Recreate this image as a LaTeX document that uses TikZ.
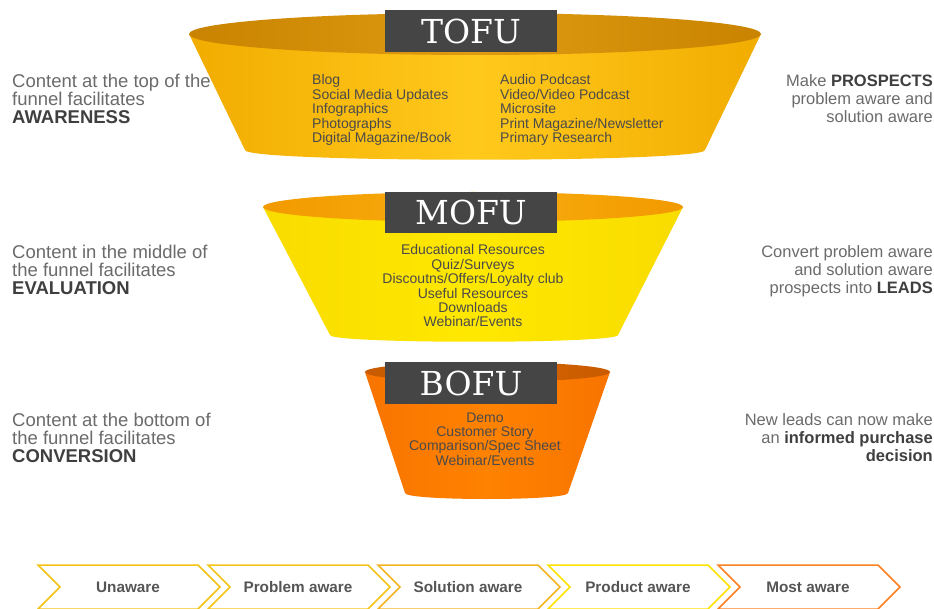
\documentclass[tikz,border=0pt]{standalone}
\usepackage{fontspec}
\setmainfont{Liberation Sans}
\newfontfamily\slab{DejaVu Serif}
\definecolor{boxgray}{HTML}{454545}
\definecolor{itemgray}{HTML}{4A4A4A}
\definecolor{descgray}{HTML}{6B6B6B}
\definecolor{boldgray}{HTML}{3F3F3F}
\definecolor{labelgray}{HTML}{555555}
\definecolor{tofuE}{HTML}{F2AC00}
\definecolor{tofuC}{HTML}{FFC91C}
\definecolor{tofuRimE}{HTML}{C98300}
\definecolor{tofuRimC}{HTML}{DE9C12}
\definecolor{mofuE}{HTML}{F8DC00}
\definecolor{mofuC}{HTML}{FFE800}
\definecolor{mofuRimE}{HTML}{F29A00}
\definecolor{mofuRimC}{HTML}{F8AE10}
\definecolor{bofuE}{HTML}{F87400}
\definecolor{bofuC}{HTML}{FF8200}
\definecolor{bofuRimE}{HTML}{C85A00}
\definecolor{bofuRimC}{HTML}{D86600}
\definecolor{chevA}{HTML}{F4C214}
\definecolor{chevB}{HTML}{F5C418}
\definecolor{chevC}{HTML}{F4B422}
\definecolor{chevD}{HTML}{FFE100}
\definecolor{chevE}{HTML}{FB8020}
\begin{document}
\begin{tikzpicture}[x=1pt,y=-1pt,
  funnelbox/.style={fill=boxgray, minimum width=172pt, minimum height=42pt, inner sep=0pt,
    text=white, font=\slab\fontsize{33}{33}\selectfont},
  items/.style={font=\fontsize{14}{14.4}\selectfont, text=itemgray, inner sep=0pt},
  descL/.style={font=\fontsize{18.5}{18}\selectfont, text=descgray, inner sep=0pt},
  descR/.style={font=\fontsize{16.5}{18}\selectfont, text=descgray, inner sep=0pt},
  chevshape/.style={line width=1.5pt, fill=white, line join=miter},
  chevlabel/.style={font=\bfseries\fontsize{15.3}{15}\selectfont, text=labelgray, inner sep=0pt}
]
\useasboundingbox[fill=white] (0,0) rectangle (934,609);

% ---------- TOFU ----------
\path[left color=tofuE, right color=tofuE, middle color=tofuC]
  (189,34) -- (245,150) .. controls (245,163) and (705,163) .. (705,150) -- (761,34) -- cycle;
\path[left color=tofuRimE, right color=tofuRimE, middle color=tofuRimC]
  (475,34) ellipse [x radius=286, y radius=21];
\node[funnelbox] (tofu) at (471,31) {TOFU};
\node[items, anchor=base west, align=left] (tofuL) at (312,142.6)
  {Blog\\Social Media Updates\\Infographics\\Photographs\\Digital Magazine/Book};
\node[items, anchor=base west, align=left] (tofuR) at (500,142.6)
  {Audio Podcast\\Video/Video Podcast\\Microsite\\Print Magazine/Newsletter\\Primary Research};

% ---------- MOFU ----------
\path[left color=mofuE, right color=mofuE, middle color=mofuC]
  (263,207) -- (330,335) .. controls (330,344) and (618,344) .. (618,335) -- (683,207) -- cycle;
\path[left color=mofuRimE, right color=mofuRimE, middle color=mofuRimC]
  (473,207) ellipse [x radius=210, y radius=15];
\node[funnelbox, minimum height=41pt] (mofu) at (471,212.5) {MOFU};
\node[items, anchor=base, align=center] (mofuI) at (473,327)
  {Educational Resources\\Quiz/Surveys\\Discoutns/Offers/Loyalty club\\Useful Resources\\Downloads\\Webinar/Events};

% ---------- BOFU ----------
\path[left color=bofuE, right color=bofuE, middle color=bofuC]
  (365,372) -- (405,493) .. controls (405,501) and (568,501) .. (568,493) -- (610,372) -- cycle;
\path[left color=bofuRimE, right color=bofuRimE, middle color=bofuRimC]
  (487.5,372) ellipse [x radius=122.5, y radius=10];
\node[funnelbox] (bofu) at (471,383) {BOFU};
\node[items, anchor=base, align=center] (bofuI) at (485,465.2)
  {Demo\\Customer Story\\Comparison/Spec Sheet\\Webinar/Events};

% ---------- side texts ----------
\node[descL, anchor=base west, align=left] (tofuDesc) at (12,124)
  {Content at the top of the\\funnel facilitates\\\textcolor{boldgray}{\textbf{AWARENESS}}};
\node[descR, anchor=base east, align=right] (tofuGoal) at (933,123)
  {Make \textcolor{boldgray}{\textbf{PROSPECTS}}\\problem aware and\\solution aware};
\node[descL, anchor=base west, align=left] (mofuDesc) at (12,295)
  {Content in the middle of\\the funnel facilitates\\\textcolor{boldgray}{\textbf{EVALUATION}}};
\node[descR, anchor=base east, align=right] (mofuGoal) at (933,294)
  {Convert problem aware\\and solution aware\\prospects into \textcolor{boldgray}{\textbf{LEADS}}};
\node[descL, anchor=base west, align=left] (bofuDesc) at (12,462)
  {Content at the bottom of\\the funnel facilitates\\\textcolor{boldgray}{\textbf{CONVERSION}}};
\node[descR, anchor=base east, align=right] (bofuGoal) at (933,461)
  {New leads can now make\\an \textcolor{boldgray}{\textbf{informed purchase}}\\\textcolor{boldgray}{\textbf{decision}}};

% ---------- awareness chevrons ----------
\foreach \x/\c/\t [count=\i] in {38/chevA/Unaware, 208/chevB/Problem aware,
    378/chevC/Solution aware, 548/chevD/Product aware, 718/chevE/Most aware}{
  \draw[chevshape, draw=\c] (\x,565) -- ++(160,0) -- ++(22,22) -- ++(-22,22)
     -- ++(-160,0) -- ++(22,-22) -- cycle;
  \node[chevlabel] (chev\i) at (\x+90,587) {\t};
}
\end{tikzpicture}
\end{document}
